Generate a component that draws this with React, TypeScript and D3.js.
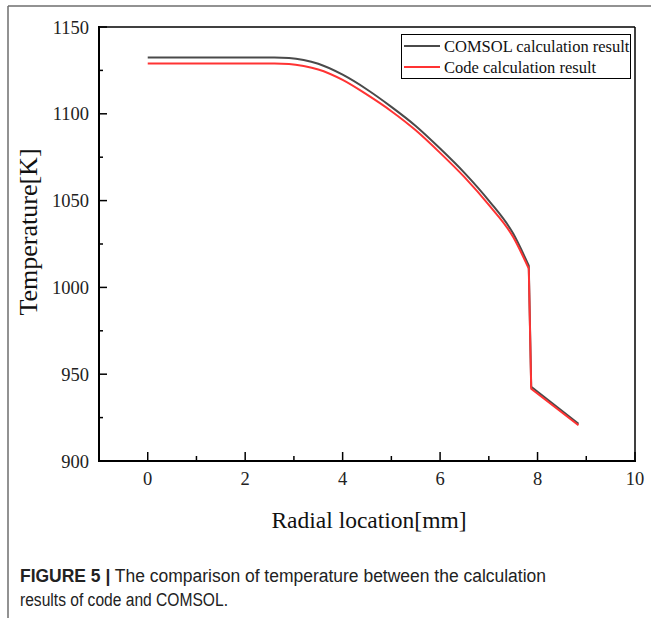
import React from "react";
import * as d3 from "d3";

const radialX = [0, 1, 2, 2.6, 2.9, 3.2, 3.5, 4, 4.5, 5, 5.5, 6, 6.5, 7, 7.5, 7.82, 7.87, 8.84];
const comsolT = [1132.5, 1132.5, 1132.5, 1132.5, 1132.2, 1131, 1128.8, 1122.5, 1114, 1104, 1093, 1080, 1066, 1050, 1031, 1012.5, 942.8, 921.5];
const codeT = [1129, 1129, 1129, 1129, 1128.7, 1127.5, 1125.5, 1119.5, 1111, 1101.5, 1090.5, 1077.5, 1063.5, 1047.5, 1029, 1010.8, 941.6, 920.6];
const smoothEnd = 15; // index where the smooth (curved) part ends

const xTicks = [0, 2, 4, 6, 8, 10];
const xMinor = [-1, 1, 3, 5, 7, 9];
const yTicks = [900, 950, 1000, 1050, 1100, 1150];
const yMinor = [925, 975, 1025, 1075, 1125];

const seriesNames = ["COMSOL calculation result", "Code calculation result"];
const seriesColors = ["#4a4a4a", "#ff3333"];

const captionBold = "FIGURE 5 |";
const captionLine1 = " The comparison of temperature between the calculation";
const captionLine2 = "results of code and COMSOL.";

export default function App() {
  const W = 651, H = 618;
  const L = 99, R = 635, T = 27, B = 461;
  const x = d3.scaleLinear().domain([-1, 10]).range([L, R]);
  const y = d3.scaleLinear().domain([900, 1150]).range([B, T]);

  const makePath = (vals: number[]) => {
    const pts: [number, number][] = radialX.map((r, i) => [x(r), y(vals[i])]);
    const smooth = d3.line().curve(d3.curveMonotoneX)(pts.slice(0, smoothEnd + 1)) as string;
    const straight = d3.line().curve(d3.curveLinear)(pts.slice(smoothEnd)) as string;
    return smooth + straight.replace(/^M/, "L");
  };
  const pathC = makePath(comsolT);
  const pathR = makePath(codeT);
  const serif = "'Liberation Serif', 'Times New Roman', serif";
  const sans = "'Liberation Sans Narrow', 'Liberation Sans', Arial, sans-serif";

  return (
    <svg
      width={W}
      height={H}
      style={{ position: "absolute", left: 0, top: 0, background: "#fff" }}
    >
      {/* figure frame */}
      <line x1={8} y1={6} x2={651} y2={6} stroke="#6e6e6e" strokeWidth={1.5} />
      <line x1={8} y1={6} x2={8} y2={618} stroke="#6e6e6e" strokeWidth={1.5} />

      {/* top & right frame */}
      <line x1={L} y1={T} x2={R} y2={T} stroke="#000" strokeWidth={1.5} />
      <line x1={R} y1={T} x2={R} y2={B} stroke="#000" strokeWidth={1.5} />

      {/* curves */}
      <path d={pathC} fill="none" stroke={seriesColors[0]} strokeWidth={2} strokeLinejoin="miter" />
      <path d={pathR} fill="none" stroke={seriesColors[1]} strokeWidth={2} strokeLinejoin="miter" />

      {/* axes */}
      <line x1={L} y1={B} x2={R + 1} y2={B} stroke="#000" strokeWidth={2} />
      <line x1={L} y1={T - 1} x2={L} y2={B + 1} stroke="#000" strokeWidth={2} />

      {xTicks.map((t) => (
        <g key={"xt" + t}>
          <line x1={x(t)} y1={B} x2={x(t)} y2={B - 9} stroke="#000" strokeWidth={1.5} />
          <text
            x={x(t)}
            y={B + 24}
            textAnchor="middle"
            fontFamily={serif}
            fontSize={18.5}
            fill="#222"
          >
            {t}
          </text>
        </g>
      ))}
      {xMinor.map((t) => (
        <line key={"xm" + t} x1={x(t)} y1={B} x2={x(t)} y2={B - 5} stroke="#000" strokeWidth={1.5} />
      ))}
      {yTicks.map((t) => (
        <g key={"yt" + t}>
          <line x1={L} y1={y(t)} x2={L + 8} y2={y(t)} stroke="#000" strokeWidth={1.5} />
          <text
            x={L - 10}
            y={y(t) + 6.5}
            textAnchor="end"
            fontFamily={serif}
            fontSize={18.5}
            fill="#222"
          >
            {t}
          </text>
        </g>
      ))}
      {yMinor.map((t) => (
        <line key={"ym" + t} x1={L} y1={y(t)} x2={L + 4} y2={y(t)} stroke="#000" strokeWidth={1.5} />
      ))}

      {/* axis titles */}
      <text
        x={369}
        y={528}
        textAnchor="middle"
        fontFamily={serif}
        fontSize={23.5}
        fill="#111"
      >
        Radial location[mm]
      </text>
      <text
        transform={`translate(37, 232) rotate(-90)`}
        textAnchor="middle"
        fontFamily={serif}
        fontSize={26}
        fill="#111"
      >
        Temperature[K]
      </text>

      {/* legend */}
      <rect x={401.5} y={34.5} width={229} height={44} fill="#fff" stroke="#000" strokeWidth={1} />
      {seriesNames.map((n, i) => (
        <g key={n}>
          <line
            x1={404}
            x2={440}
            y1={46 + i * 21}
            y2={46 + i * 21}
            stroke={seriesColors[i]}
            strokeWidth={2}
          />
          <text x={444} y={52 + i * 21} fontFamily={serif} fontSize={16.5} fill="#111">
            {n}
          </text>
        </g>
      ))}

      {/* caption */}
      <text x={20} y={582} fontFamily={sans} fontSize={18} fill="#222" textLength={526} lengthAdjust="spacingAndGlyphs">
        <tspan fontWeight="bold">{captionBold}</tspan>
        <tspan>{captionLine1}</tspan>
      </text>
      <text x={20} y={606} fontFamily={sans} fontSize={18} fill="#222" textLength={208} lengthAdjust="spacingAndGlyphs">
        {captionLine2}
      </text>
    </svg>
  );
}
